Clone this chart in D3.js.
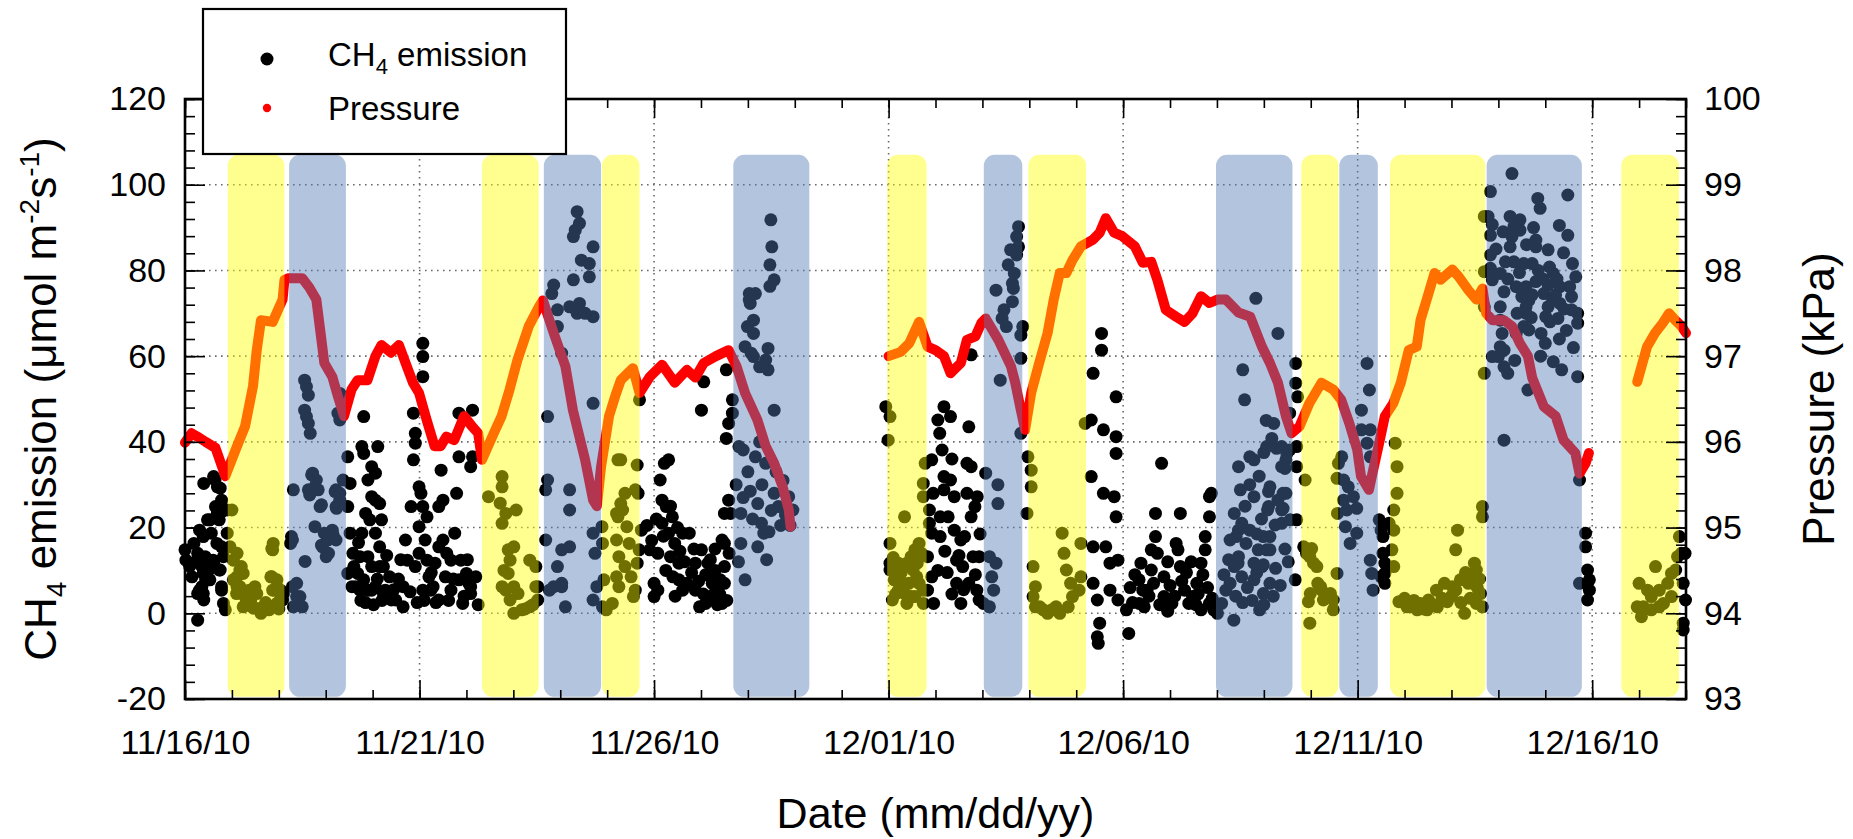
<!DOCTYPE html>
<html>
<head>
<meta charset="utf-8">
<script src="https://cdn.jsdelivr.net/npm/d3@7"></script>
<style>
  html, body { margin: 0; padding: 0; background: #fff; }
  svg { display: block; font-family: "Liberation Sans", Arial, Helvetica, sans-serif; }
</style>
</head>
<body>
<svg id="chart" width="1853" height="839"></svg>
<script>
// Record starts 11/16/2010 00:00; every time below is in days after that instant.
const startDate = new Date(2010, 10, 16);
const spanDays = 32;

const dateTickDays = [0, 5, 10, 15, 20, 25, 30];
const ch4Ticks = [-20, 0, 20, 40, 60, 80, 100, 120];
const pressureTicks = [93, 94, 95, 96, 97, 98, 99, 100];

// Shaded periods, [start day, end day]
const yellowPeriods = [[0.91, 2.12], [6.33, 7.54], [8.89, 9.69], [14.97, 15.81], [17.98, 19.21],
                       [23.80, 24.59], [25.69, 27.72], [30.62, 31.85]];
const bluePeriods = [[2.22, 3.43], [7.65, 8.87], [11.69, 13.31], [17.03, 17.85], [21.98, 23.61],
                     [24.61, 25.43], [27.75, 29.78]];

// Atmospheric pressure (kPa), three continuous runs: [day, kPa]
const pressureRun1 = [
  [0.00,95.99],[0.14,96.10],[0.30,96.05],[0.44,96.00],[0.65,95.93],[0.86,95.60],[1.11,95.95],[1.28,96.18],
  [1.45,96.65],[1.53,97.07],[1.62,97.42],[1.87,97.40],[2.08,97.66],[2.12,97.89],[2.21,97.91],[2.50,97.91],
  [2.65,97.80],[2.80,97.66],[2.89,97.27],[2.97,96.92],[3.14,96.76],[3.26,96.53],[3.39,96.30],[3.55,96.61],
  [3.68,96.72],[3.89,96.72],[4.06,97.00],[4.19,97.13],[4.39,97.04],[4.56,97.13],[4.73,96.88],[4.86,96.69],
  [4.99,96.57],[5.15,96.26],[5.32,95.95],[5.45,95.95],[5.57,96.06],[5.74,96.02],[5.95,96.30],[6.12,96.18],
  [6.25,96.10],[6.33,95.79],[6.59,96.11],[6.75,96.30],[6.92,96.61],[7.09,96.96],[7.33,97.35],[7.55,97.58],
  [7.63,97.65],[7.86,97.27],[8.11,96.88],[8.27,96.37],[8.53,95.79],[8.70,95.32],[8.78,95.25],[8.87,95.71],
  [9.04,96.30],[9.17,96.53],[9.29,96.72],[9.55,96.86],[9.69,96.57],[9.91,96.76],[10.17,96.90],[10.44,96.69],
  [10.70,96.84],[10.88,96.75],[11.06,96.92],[11.32,97.00],[11.59,97.07],[11.76,96.88],[11.94,96.57],[12.20,96.26],
  [12.38,95.95],[12.56,95.75],[12.74,95.48],[12.87,95.21],[12.91,95.01]
];
const pressureRun2 = [
  [15.00,97.00],[15.26,97.05],[15.44,97.15],[15.65,97.40],[15.83,97.11],[16.00,97.07],[16.18,97.00],[16.32,96.80],
  [16.54,96.92],[16.67,97.19],[16.85,97.23],[16.98,97.39],[17.07,97.44],[17.34,97.19],[17.61,96.88],[17.70,96.69],
  [17.82,96.37],[17.91,96.14],[18.04,96.57],[18.20,96.90],[18.39,97.27],[18.52,97.66],[18.65,97.97],[18.79,97.97],
  [18.92,98.12],[19.10,98.28],[19.36,98.36],[19.50,98.44],[19.63,98.61],[19.81,98.44],[19.98,98.40],[20.25,98.28],
  [20.42,98.09],[20.60,98.10],[20.73,97.89],[20.91,97.54],[21.13,97.46],[21.31,97.40],[21.48,97.50],[21.66,97.70],
  [21.84,97.62],[22.01,97.66],[22.19,97.66],[22.46,97.51],[22.71,97.46],[22.96,97.11],[23.13,96.92],[23.30,96.69],
  [23.47,96.30],[23.59,96.10],[23.76,96.18],[23.97,96.45],[24.23,96.69],[24.48,96.61],[24.65,96.49],[24.82,96.22],
  [24.99,95.91],[25.07,95.60],[25.24,95.44],[25.33,95.67],[25.46,95.99],[25.58,96.30],[25.76,96.45],[25.92,96.69],
  [26.09,97.07],[26.26,97.11],[26.34,97.42],[26.51,97.73],[26.64,97.97],[26.77,97.89],[27.02,98.01],[27.15,97.93],
  [27.36,97.77],[27.53,97.66],[27.66,97.79],[27.74,97.50],[27.87,97.42],[28.12,97.42],[28.29,97.35],[28.46,97.15],
  [28.63,97.00],[28.72,96.75],[28.97,96.41],[29.22,96.30],[29.39,96.02],[29.64,95.87],[29.73,95.63],[29.86,95.75],
  [29.93,95.87]
];
const pressureRun3 = [
  [30.96,96.70],[31.17,97.11],[31.34,97.27],[31.51,97.39],[31.64,97.50],[31.77,97.42],[31.90,97.35],[32.00,97.27]
];

// CH4 emission (µmol m-2 s-1): [day, value]
const ch4Nov16to19 = [
  [0.00,14.8],[0.02,12.4],[0.19,16.3],[0.31,19.4],[0.40,30.3],[0.44,12.4],[0.61,31.9],[0.69,29.5],[0.65,24.9],
  [0.48,21.8],[0.69,23.3],[0.78,26.4],[0.73,21.8],[0.56,18.7],[0.27,14.0],[0.36,10.9],[0.44,7.8],[0.61,11.7],
  [0.73,10.1],[0.78,5.4],[0.82,13.2],[0.27,4.6],[0.36,6.2],[0.27,-1.6],[0.40,3.1],[0.31,5.4],[0.86,0.8],[0.78,6.2],
  [0.64,31.1],[0.75,29.2],[0.78,23.7],[0.53,21.8],[0.39,17.9],[0.68,16.3],[0.78,15.5],[0.43,13.2],[0.60,12.4],
  [0.75,10.1],[0.39,9.3],[0.53,7.8],[0.39,4.6],[0.82,2.3],[0.10,11.0],[0.15,8.5],[0.22,12.0],[0.50,10.0],
  [0.90,24.1],[0.90,18.7],[1.03,12.4],[1.11,8.5],[1.20,5.4],[1.11,6.2],[1.28,3.9],[1.45,1.5],[1.62,0.0],[1.79,0.8],
  [1.96,2.3],[1.87,5.4],[2.04,5.4],[1.96,7.8],[1.87,14.8],[1.88,16.3],[1.83,8.5],[1.96,6.2],[1.24,9.3],[1.37,5.4],
  [1.53,4.6],[1.11,14.0],[1.20,10.9],[1.49,6.2],[2.10,4.6],[2.08,3.1],[1.00,24.1],[0.96,15.5],[1.03,7.8],[1.10,4.6],
  [1.24,1.5],[1.46,1.2],[1.67,1.5],[1.85,15.1],[1.85,8.5],[1.92,5.4],[2.03,3.1],[1.17,10.1],[1.17,6.2],
  [1.33,2.0],[1.58,1.0],[1.72,2.5],[1.40,3.0],[2.00,1.0],
  [2.31,28.8],[2.70,32.3],[2.77,29.5],[2.66,27.6],[2.91,25.3],[3.20,28.4],[3.30,26.4],[3.23,24.5],[2.77,20.2],
  [3.02,18.3],[3.16,18.3],[2.91,15.9],[3.06,14.0],[2.56,12.1],[2.27,17.9],[2.38,7.0],[2.45,3.9],[2.31,1.5],
  [2.55,54.4],[2.59,52.9],[2.63,50.9],[2.55,47.4],[2.59,45.9],[2.63,44.3],[2.67,42.0],[2.72,32.7],[2.80,31.1],
  [2.63,28.8],[2.84,28.8],[2.88,24.9],[2.97,18.7],[3.05,17.1],[3.14,19.4],[3.22,17.1],[2.93,15.5],[3.01,13.2],
  [2.29,17.1],[2.25,16.3],[3.22,28.8],[3.30,28.0],[3.22,24.9],[3.26,46.7],[3.30,45.1],[3.30,51.3],[2.29,6.2],
  [2.38,3.9],[2.50,1.5],[3.37,31.1]
];
const ch4Nov19to25 = [
  [3.47,36.5],[3.52,30.3],[3.47,24.9],[3.52,18.7],[3.81,45.9],[3.77,38.9],[3.81,37.3],[3.98,34.2],[4.11,38.9],
  [4.06,32.7],[3.90,31.1],[3.98,27.2],[4.06,26.4],[4.15,25.6],[3.85,23.3],[3.94,21.8],[4.19,21.8],[3.77,18.7],
  [4.06,18.7],[3.73,13.2],[3.90,13.2],[4.15,15.5],[3.60,10.9],[3.68,9.3],[3.81,7.8],[3.98,10.9],[4.15,10.9],
  [4.23,10.9],[4.36,8.5],[3.56,6.2],[3.73,5.4],[3.90,5.4],[4.06,6.2],[4.27,5.4],[3.64,6.2],[3.98,5.4],[4.23,4.6],
  [4.40,3.1],[4.49,3.1],[4.65,1.5],[4.65,6.2],[4.87,46.7],[5.07,63.0],[5.07,59.9],[5.07,55.2],[4.91,42.0],
  [4.91,39.7],[4.87,35.8],[4.82,24.9],[4.99,29.5],[5.03,28.0],[5.07,24.9],[5.16,22.5],[4.99,20.2],[4.70,17.1],
  [4.74,12.4],[4.91,10.9],[4.99,14.0],[5.12,17.1],[5.16,12.4],[5.20,8.5],[5.29,6.2],[5.33,11.7],[5.41,15.5],
  [5.46,33.4],[5.41,24.9],[5.50,26.4],[5.50,17.1],[5.58,14.0],[5.67,12.4],[5.75,18.7],[5.79,28.0],[5.84,36.5],
  [5.84,46.7],[5.88,12.4],[5.84,7.8],[6.00,9.3],[6.09,4.6],[6.13,47.4],[6.13,36.5],[6.09,34.2],[6.05,7.0],
  [5.41,3.1],[5.67,5.4],[5.92,2.3],[6.09,6.2],[5.07,5.4],[5.24,5.4],[3.47,9.3],
  [3.58,14.0],[3.70,16.5],[3.75,3.0],[3.85,2.5],[4.02,2.0],[4.10,8.0],[4.20,3.0],[4.30,13.5],[4.45,5.5],
  [4.55,8.0],[4.60,12.5],[4.80,5.0],[4.95,2.5],[5.10,3.0],[5.25,9.5],[5.35,2.5],[5.55,8.5],[5.62,3.0],[5.72,8.0],
  [5.95,4.0],[6.02,12.5],[6.20,8.5],[6.25,2.0],
  [6.76,31.9],[6.76,29.5],[6.72,25.7],[7.06,24.1],[6.84,23.3],[6.76,21.0],[6.89,14.8],[7.01,15.5],[6.93,12.4],
  [6.89,9.3],[7.01,6.2],[7.35,12.4],[7.48,10.9],[7.52,6.2],[6.47,27.2],[6.76,6.2],[6.93,3.1],[7.01,0.0],[7.18,0.8],
  [7.35,1.5],[7.52,3.1],[7.48,6.2],[7.10,4.6],[6.84,5.4],[7.25,1.0],[7.42,2.0],[6.80,10.0],
  [8.36,93.7],[8.41,91.0],[8.32,89.4],[8.28,87.9],[8.70,85.5],[8.45,82.4],[8.62,81.6],[7.86,76.6],[8.28,77.8],
  [8.62,78.5],[7.94,70.8],[8.20,71.5],[8.36,70.0],[8.53,70.0],[8.70,69.2],[7.94,66.9],[8.03,60.7],[8.70,49.0],
  [7.73,45.9],[7.73,31.1],[7.69,28.8],[8.20,28.8],[8.20,24.1],[7.69,17.1],[8.03,14.8],[8.20,15.5],[7.94,10.9],
  [8.03,7.0],[8.70,18.7],[8.74,14.0],[7.77,5.4],[8.03,6.2],[8.11,1.5],[7.86,6.2],[8.70,3.1],[8.78,6.2],
  [7.82,74.6],[8.41,72.3],
  [9.29,35.8],[9.64,34.6],[9.38,28.0],[9.29,25.6],[9.20,23.3],[9.33,24.1],[9.42,20.2],[9.20,17.1],[9.47,16.3],
  [9.25,13.2],[9.38,10.9],[9.20,8.5],[9.51,8.5],[9.25,6.2],[9.56,3.9],[9.11,2.3],[8.98,0.8],[8.90,1.5],[8.89,20.2],
  [8.90,16.3],[8.93,7.8],[9.60,5.4],[9.64,11.7],[9.68,14.8],[9.60,28.8],[9.23,35.8],[9.23,22.5]
];
const ch4Nov25to29 = [
  [9.69,49.8],[9.73,19.4],[9.66,28.0],[9.91,14.8],[10.00,7.0],[10.00,3.9],[10.08,5.4],[10.13,31.1],[10.17,26.4],
  [10.31,35.8],[10.22,35.0],[10.26,24.9],[10.17,21.0],[10.31,18.7],[10.08,14.0],[10.44,16.3],[10.35,13.2],
  [10.39,22.5],[10.61,18.7],[10.75,18.7],[10.53,11.7],[10.53,7.8],[10.61,5.4],[10.70,7.0],[10.88,5.4],[10.97,1.5],
  [11.10,2.3],[11.19,3.9],[11.24,7.0],[11.32,5.4],[11.45,2.3],[11.50,7.0],[11.50,10.9],[11.01,14.8],[10.88,11.7],
  [11.15,11.7],[11.24,8.5],[11.41,7.8],[11.50,16.3],[11.45,17.1],[11.59,26.4],[11.63,23.3],[11.50,23.3],
  [11.01,47.4],[11.06,54.0],[11.54,56.8],[11.54,40.8],[11.59,44.3],
  [9.85,20.5],[9.95,17.0],[10.05,22.0],[10.25,10.0],[10.40,8.5],[10.45,4.0],[10.55,14.5],[10.65,12.0],
  [10.80,9.5],[10.85,15.0],[10.95,7.5],[11.05,4.5],[11.10,9.0],[11.20,12.5],[11.30,10.0],[11.35,2.0],
  [11.40,4.5],[11.55,3.0],[11.60,14.0],[10.20,18.0],[10.35,25.0],[10.50,20.0],[11.30,15.0],
  [11.67,49.8],[11.67,46.7],[11.81,38.9],[11.90,38.1],[12.16,36.5],[12.38,35.0],[12.56,47.4],[11.85,23.3],
  [12.21,25.6],[12.29,21.0],[12.34,18.7],[12.56,28.0],[12.65,24.9],[12.87,27.2],[12.96,24.1],[11.85,16.3],
  [12.21,15.5],[11.94,7.8],[12.03,74.6],[12.16,74.6],[12.03,73.1],[12.05,72.3],[12.12,68.4],[11.99,66.9],
  [12.12,65.3],[11.94,62.2],[12.07,60.7],[12.25,57.5],[12.43,56.8],[12.43,61.8],[12.47,76.3],[12.56,77.8],
  [12.47,81.3],[12.51,85.5],[12.49,91.8],[12.38,59.1],[12.12,59.9],
  [12.05,28.5],[12.10,22.0],[12.30,30.0],[12.45,19.0],[12.50,24.0],[12.60,33.0],[12.70,20.5],[12.75,31.0],
  [12.80,23.0],[12.25,40.0],[12.00,33.0],[11.75,30.0],[11.80,12.0],[12.40,12.5],[12.90,20.5],[11.90,27.0]
];
const ch4Dec01to05 = [
  [14.94,48.2],[15.03,45.9],[14.99,40.4],[15.03,16.3],[15.03,10.1],[15.12,7.8],[15.21,5.4],[15.08,3.1],[15.34,22.5],
  [15.39,11.7],[15.48,13.2],[15.56,14.8],[15.65,16.3],[15.70,14.0],[15.43,7.0],[15.52,10.1],[15.65,7.0],[15.56,3.9],
  [15.74,5.4],[15.74,27.2],[15.74,30.3],[15.78,35.0],[15.74,2.3],[15.21,8.5],[15.03,11.7],[15.21,11.7],[15.30,7.0],
  [15.48,3.9],[15.39,2.3],[15.61,11.7],[15.10,13.0],[15.15,4.5],[15.27,9.5],[15.35,4.5],[15.60,8.5],
  [15.92,35.8],[15.87,24.1],[15.87,21.0],[15.92,18.7],[16.10,17.9],[15.83,13.2],[15.92,8.5],[15.83,5.4],[15.96,2.3],
  [16.05,45.1],[16.09,42.0],[16.14,38.1],[16.18,48.2],[16.32,45.9],[16.18,31.9],[16.32,31.1],[16.40,27.2],
  [16.10,22.5],[16.27,22.5],[16.40,19.4],[16.54,17.1],[16.45,12.4],[16.58,10.9],[16.45,7.0],[16.54,2.3],
  [16.71,43.5],[16.67,35.0],[16.76,34.2],[16.67,28.0],[16.76,22.5],[16.62,17.9],[16.80,13.2],[16.71,7.0],
  [16.88,5.4],[16.84,24.9],[16.89,27.2],[16.93,13.2],[16.93,3.1],[16.76,60.3],[16.18,28.8],
  [16.20,14.5],[16.25,9.5],[16.35,4.5],[16.50,13.5],[16.60,5.5],[16.85,9.0],[16.95,18.5],[16.05,10.0],
  [15.95,28.0],[16.35,36.0],
  [17.77,90.2],[17.73,87.9],[17.60,84.8],[17.73,83.6],[17.55,81.3],[17.68,79.3],[17.64,77.0],[17.66,75.8],
  [17.29,75.4],[17.64,72.7],[17.46,70.8],[17.42,68.8],[17.51,66.9],[17.86,66.9],[17.82,64.9],[17.82,59.5],
  [17.77,85.5],[17.38,54.4],[17.07,32.7],[17.33,30.0],[17.33,25.6],[17.15,13.2],[17.29,11.7],[17.20,8.5],
  [17.24,5.4],[17.15,1.5],[17.02,2.3],[17.82,42.0],
  [17.97,36.5],[18.04,33.4],[18.04,29.5],[17.95,23.3],[18.70,18.7],[18.74,14.0],[18.08,10.9],[18.13,6.2],
  [18.13,1.5],[18.30,0.8],[18.48,0.8],[18.65,0.0],[18.83,1.5],[18.92,3.9],[19.06,5.4],[18.79,10.1],[18.88,7.0],
  [19.10,16.3],[19.10,8.5],[18.08,3.9],[18.22,1.5],[18.57,1.5],[18.39,0.0],[19.19,44.3]
];
const ch4Dec05to11 = [
  [19.36,56.0],[19.54,61.4],[19.32,45.1],[19.58,42.8],[19.85,41.2],[19.85,50.5],[19.85,37.3],[19.32,31.9],
  [19.58,28.0],[19.81,27.2],[19.85,22.5],[19.36,15.5],[19.63,15.5],[19.72,11.7],[19.89,12.4],[19.36,7.0],
  [19.45,3.1],[19.50,-2.3],[19.45,-5.5],[19.47,-7.0],[19.72,5.4],[19.89,3.1],[20.07,0.8],[20.12,-4.7],[20.34,7.8],
  [20.38,11.7],[20.42,5.4],[20.60,10.1],[20.69,23.3],[20.82,35.0],[20.69,17.9],[20.73,14.0],[20.87,8.5],
  [20.87,3.9],[21.04,2.3],[21.13,16.3],[21.17,14.8],[21.22,23.3],[21.22,10.9],[21.31,5.4],[21.40,2.3],[21.48,3.9],
  [21.57,7.0],[21.66,11.7],[21.75,14.8],[21.75,17.9],[21.84,22.5],[21.84,27.2],[21.88,28.0],[21.84,2.3],
  [21.66,0.8],[21.93,0.8],[20.34,2.3],[20.51,5.4],[20.60,14.8],[19.54,65.3],
  [20.15,6.0],[20.20,2.5],[20.25,9.0],[20.45,1.5],[20.55,4.0],[20.65,7.0],[20.95,12.0],[21.00,6.5],[21.10,4.0],
  [21.25,7.5],[21.35,9.5],[21.45,12.0],[21.55,2.0],[21.60,4.5],[21.70,9.0],[21.80,6.0],[21.90,3.5],[20.95,0.5],
  [20.78,2.0],
  [22.01,0.0],[22.10,2.3],[22.19,5.4],[22.28,7.0],[22.37,10.9],[22.46,13.2],[22.28,17.1],[22.46,19.4],[22.37,23.3],
  [22.50,28.8],[22.46,34.2],[22.59,49.8],[22.55,56.8],[22.70,36.5],[22.79,35.8],[22.79,27.2],[22.53,21.0],
  [22.70,19.4],[22.41,17.9],[22.62,16.3],[22.88,14.8],[22.45,11.7],[22.79,11.7],[22.96,10.9],[22.53,8.5],
  [22.79,7.8],[23.13,7.0],[22.91,0.8],[22.36,-1.6],[23.13,29.5],[23.08,24.1],[23.30,26.4],[23.38,24.1],[23.47,28.0],
  [23.13,14.8],[23.13,17.9],[23.38,21.0],[23.21,44.3],[23.38,34.2],[23.47,35.8],[23.55,38.1],[23.55,46.7],
  [23.17,40.8],[23.38,38.9],[22.83,73.5],[23.30,65.3],[23.06,38.9],[23.27,38.5],[23.49,37.3],[23.45,33.8],
  [23.10,28.4],[23.41,28.0],[23.10,24.9],[23.41,24.5],[23.24,20.6],[23.56,21.8],[22.99,17.9],[23.06,14.8],
  [22.99,11.3],[22.99,4.6],
  [22.15,9.0],[22.25,12.5],[22.40,4.0],[22.55,2.5],[22.65,6.0],[22.75,3.0],[22.85,9.5],[23.00,2.0],[23.20,4.0],
  [23.25,10.5],[23.35,6.5],[23.45,15.0],[23.52,12.0],[22.60,25.0],[22.70,30.0],[22.90,32.0],[23.00,37.5],
  [23.05,45.0],[22.95,22.0],[22.85,18.5],
  [23.70,38.9],[23.70,34.2],[23.70,21.8],[23.67,7.8],[23.68,58.3],[23.68,53.7],[23.72,50.5],
  [23.88,31.1],[23.91,14.0],[24.02,15.1],[24.13,10.9],[24.06,11.7],[24.56,9.3],[24.59,35.0],[24.56,31.5],
  [23.99,4.6],[24.21,6.2],[24.42,4.6],[23.95,2.7],[24.27,3.1],[24.48,3.1],[23.98,13.2],[23.85,15.5],[24.15,7.0],
  [23.98,-2.3],[24.23,5.4],[24.41,3.9],[24.48,0.8],[24.57,23.3],
  [24.66,36.5],[24.70,31.1],[24.80,29.5],[24.70,26.4],[24.91,27.2],[24.77,24.1],[24.98,24.5],[24.74,20.2],
  [24.98,18.7],[24.84,16.3],[25.27,42.8],[25.20,39.7],[25.27,36.5],[25.27,12.4],[25.30,9.3],[25.33,5.4],
  [25.20,58.3],[25.25,52.1],[25.08,47.4],[25.08,42.8],
  [25.46,21.8],[25.50,19.4],[25.54,17.9],[25.54,14.0],[25.58,11.7],[25.50,8.5],[25.58,7.0],[25.67,21.0],[25.58,9.3]
];
const ch4Dec11to17 = [
  [25.80,39.7],[25.84,34.2],[25.84,28.0],[25.77,24.1],[25.77,19.4],[25.73,14.8],[25.77,10.9],[25.88,2.7],
  [26.05,1.5],[26.27,0.8],[26.48,0.8],[26.70,1.5],[26.91,2.7],[27.09,5.4],[27.13,19.4],[27.09,14.8],[27.49,11.7],
  [27.53,10.1],[27.45,8.5],[27.36,7.0],[27.19,7.8],[27.02,6.2],[26.85,7.0],[26.68,5.4],[26.51,3.1],[26.34,2.3],
  [26.17,1.5],[27.28,0.0],[27.53,2.3],[27.66,24.9],[27.66,22.5],[27.70,56.0],[27.62,4.6],[27.66,1.5],
  [27.70,92.6],[27.70,79.7],[27.70,71.5],
  [26.00,3.5],[26.20,3.0],[26.40,1.0],[26.60,2.0],[26.80,3.5],[27.00,4.0],[27.20,2.5],[27.40,3.5],[27.55,6.0],
  [27.30,9.5],[27.60,8.0],
  [28.29,102.6],[27.83,98.4],[29.48,97.6],[28.84,96.8],[28.89,94.5],[27.78,92.6],[28.25,92.6],[28.46,91.8],
  [27.87,90.7],[28.33,90.2],[28.46,89.4],[27.83,88.2],[28.29,87.9],[29.48,88.2],[28.80,87.1],[28.80,85.5],
  [28.25,85.5],[29.06,84.8],[27.83,83.6],[29.39,84.1],[27.83,80.5],[28.33,82.0],[28.54,81.6],[28.72,81.6],
  [29.58,81.6],[29.09,80.8],[29.17,79.3],[28.04,79.3],[27.87,77.8],[29.65,78.5],[28.80,77.4],[28.38,76.2],
  [28.59,76.2],[29.06,76.6],[29.31,76.2],[29.52,76.2],[28.12,75.0],[28.50,73.9],[28.72,74.3],[28.97,74.6],
  [29.22,74.3],[29.56,73.9],[28.59,71.5],[28.04,71.5],[29.06,71.5],[29.31,72.3],[29.56,70.8],[28.59,70.0],
  [29.01,69.2],[29.27,68.8],[29.69,70.0],[29.69,67.7],[28.04,68.4],[28.54,66.9],[28.38,65.3],[28.08,65.3],
  [28.65,66.1],[28.91,65.3],[28.04,62.2],[28.00,59.9],[28.12,57.5],[29.17,58.7],[29.35,56.8],[29.69,55.2],
  [27.87,59.9],[28.12,61.4],[28.63,52.1],[28.12,40.4],[29.73,31.1],[29.73,7.0],
  [27.95,85.0],[28.15,82.0],[28.20,78.0],[28.40,70.0],[28.45,79.5],[28.65,73.0],[28.70,69.0],[28.85,80.0],
  [28.95,78.0],[29.10,68.0],[29.15,73.5],[29.25,78.0],[29.40,71.0],[29.45,66.0],[29.60,62.0],[28.90,60.0],
  [29.00,63.0],[29.30,64.0],[28.20,56.0],[28.35,59.0],[28.75,90.0],[29.30,90.5],[28.60,86.0],[28.10,89.0],
  [29.86,18.7],[29.86,15.5],[29.90,10.1],[29.94,7.8],[29.94,5.4],[29.90,3.1],
  [31.00,7.0],[31.09,1.5],[31.05,-0.8],[31.26,3.9],[31.35,10.9],[31.43,5.4],[31.52,2.3],[31.61,7.0],[31.69,9.3],
  [31.78,10.1],[31.82,13.2],[31.86,17.9],[31.26,0.8],[31.43,1.5],[31.18,5.4],[31.69,3.9],[30.96,1.5],
  [31.90,14.0],[31.98,14.0],[31.94,7.0],[31.99,3.1],[31.94,-2.3],[31.94,-3.9]
];

// ---------------------------------------------------------------------------
const plot = { left: 185, right: 1686, top: 99, bottom: 699 };
const font = '"Liberation Sans", Arial, Helvetica, sans-serif';
const dayMs = 864e5;
const toDate = d => new Date(startDate.getTime() + d * dayMs);
const plainNumber = v => String(v);   // keeps the ASCII hyphen in "-20"

const svg = d3.select("#chart");

const x = d3.scaleTime()
  .domain([startDate, toDate(spanDays)])
  .range([plot.left, plot.right]);
const yCh4 = d3.scaleLinear().domain([-20, 120]).range([plot.bottom, plot.top]);
const yP = d3.scaleLinear().domain([93, 100]).range([plot.bottom, plot.top]);

// dotted grid at the labelled ticks
const grid = svg.append("g")
  .attr("stroke", "#6a6a6a").attr("stroke-width", 1.6).attr("stroke-dasharray", "1.6,4.4");
grid.selectAll("line.v").data(dateTickDays.filter(d => d > 0)).join("line")
  .attr("class", "v")
  .attr("x1", d => x(toDate(d))).attr("x2", d => x(toDate(d)))
  .attr("y1", plot.top).attr("y2", plot.bottom);
grid.selectAll("line.h").data(ch4Ticks.filter(v => v > -20 && v < 120)).join("line")
  .attr("class", "h")
  .attr("x1", plot.left).attr("x2", plot.right)
  .attr("y1", d => yCh4(d)).attr("y2", d => yCh4(d));

// CH4 emission points
const ch4All = [].concat(ch4Nov16to19, ch4Nov19to25, ch4Nov25to29, ch4Dec01to05, ch4Dec05to11, ch4Dec11to17);
svg.append("g").attr("fill", "#000")
  .selectAll("circle").data(ch4All).join("circle")
  .attr("cx", d => x(toDate(d[0])))
  .attr("cy", d => yCh4(d[1]))
  .attr("r", 6.5);

// Pressure trace, drawn as a dense run of points (continuous thick stroke)
const pLine = d3.line().x(d => x(toDate(d[0]))).y(d => yP(d[1])).curve(d3.curveLinear);
svg.append("g")
  .attr("fill", "none").attr("stroke", "#ff0000").attr("stroke-width", 10)
  .attr("stroke-linejoin", "round").attr("stroke-linecap", "round")
  .selectAll("path").data([pressureRun1, pressureRun2, pressureRun3]).join("path")
  .attr("d", pLine);

// translucent period shading laid over the data
const bandTopValue = 107, bandBottomValue = -19.5;
function drawBands(periods, color) {
  svg.append("g").attr("fill", color)
    .selectAll("rect").data(periods).join("rect")
    .attr("x", d => x(toDate(d[0])))
    .attr("width", d => x(toDate(d[1])) - x(toDate(d[0])))
    .attr("y", yCh4(bandTopValue))
    .attr("height", yCh4(bandBottomValue) - yCh4(bandTopValue))
    .attr("rx", d => Math.min(11, (x(toDate(d[1])) - x(toDate(d[0]))) / 2))
    .attr("ry", d => Math.min(11, (x(toDate(d[1])) - x(toDate(d[0]))) / 2));
}
drawBands(yellowPeriods, "rgba(255,255,0,0.44)");
drawBands(bluePeriods, "rgba(81,121,180,0.445)");

// axes
const allDays = d3.range(0, spanDays + 1);
const fmt = d3.timeFormat("%m/%d/%y");
function styleAxis(g) {
  g.attr("font-family", font).attr("font-size", 34);
  g.selectAll("text").attr("fill", "#000");
  g.selectAll("line").attr("stroke", "#000").attr("stroke-width", 1.6);
  g.select(".domain").remove();
}
// bottom
svg.append("g").attr("transform", `translate(0,${plot.bottom})`)
  .call(d3.axisBottom(x).tickValues(allDays.map(toDate)).tickSize(-9).tickFormat(""))
  .call(styleAxis);
svg.append("g").attr("transform", `translate(0,${plot.bottom})`)
  .call(d3.axisBottom(x).tickValues(dateTickDays.map(toDate)).tickSize(-19).tickPadding(31).tickFormat(fmt))
  .call(styleAxis);
// top
svg.append("g").attr("transform", `translate(0,${plot.top})`)
  .call(d3.axisTop(x).tickValues(allDays.map(toDate)).tickSize(-9).tickFormat(""))
  .call(styleAxis);
svg.append("g").attr("transform", `translate(0,${plot.top})`)
  .call(d3.axisTop(x).tickValues(dateTickDays.map(toDate)).tickSize(-19).tickFormat(""))
  .call(styleAxis);
// left
svg.append("g").attr("transform", `translate(${plot.left},0)`)
  .call(d3.axisLeft(yCh4).tickValues(d3.range(-20, 121, 4)).tickSize(-10).tickFormat(""))
  .call(styleAxis);
svg.append("g").attr("transform", `translate(${plot.left},0)`)
  .call(d3.axisLeft(yCh4).tickValues(ch4Ticks).tickSize(-20).tickPadding(19).tickFormat(plainNumber))
  .call(styleAxis);
// right
svg.append("g").attr("transform", `translate(${plot.right},0)`)
  .call(d3.axisRight(yP).tickValues(d3.range(0, 36).map(i => 93 + i * 0.2)).tickSize(-10).tickFormat(""))
  .call(styleAxis);
svg.append("g").attr("transform", `translate(${plot.right},0)`)
  .call(d3.axisRight(yP).tickValues(pressureTicks).tickSize(-20).tickPadding(18).tickFormat(plainNumber))
  .call(styleAxis);

// frame
svg.append("rect")
  .attr("x", plot.left).attr("y", plot.top)
  .attr("width", plot.right - plot.left).attr("height", plot.bottom - plot.top)
  .attr("fill", "none").attr("stroke", "#000").attr("stroke-width", 2.6);

// axis titles
svg.append("text")
  .attr("x", (plot.left + plot.right) / 2).attr("y", 828)
  .attr("text-anchor", "middle").attr("font-family", font).attr("font-size", 43)
  .text("Date (mm/dd/yy)");

const yTitle = svg.append("text")
  .attr("transform", `translate(56,${(plot.top + plot.bottom) / 2}) rotate(-90)`)
  .attr("text-anchor", "middle").attr("font-family", font).attr("font-size", 44);
yTitle.append("tspan").text("CH");
yTitle.append("tspan").attr("font-size", 28).attr("dy", 10).text("4");
yTitle.append("tspan").attr("dy", -10).text(" emission (μmol m");
yTitle.append("tspan").attr("font-size", 28).attr("dy", -17).text("-2");
yTitle.append("tspan").attr("dy", 17).text("s");
yTitle.append("tspan").attr("font-size", 28).attr("dy", -17).text("-1");
yTitle.append("tspan").attr("dy", 17).text(")");

svg.append("text")
  .attr("transform", `translate(1834,${(plot.top + plot.bottom) / 2}) rotate(-90)`)
  .attr("text-anchor", "middle").attr("font-family", font).attr("font-size", 44)
  .text("Pressure (kPa)");

// legend
const legend = svg.append("g");
legend.append("rect")
  .attr("x", 203).attr("y", 9).attr("width", 363).attr("height", 145)
  .attr("fill", "#fff").attr("stroke", "#000").attr("stroke-width", 2.2);
legend.append("circle").attr("cx", 267).attr("cy", 59).attr("r", 6.5).attr("fill", "#000");
legend.append("circle").attr("cx", 267).attr("cy", 108).attr("r", 4.2).attr("fill", "#ff0000");
const l1 = legend.append("text").attr("x", 328).attr("y", 66)
  .attr("font-family", font).attr("font-size", 33);
l1.append("tspan").text("CH");
l1.append("tspan").attr("font-size", 22).attr("dy", 8).text("4");
l1.append("tspan").attr("dy", -8).text(" emission");
legend.append("text").attr("x", 328).attr("y", 120)
  .attr("font-family", font).attr("font-size", 33).text("Pressure");
</script>
</body>
</html>
